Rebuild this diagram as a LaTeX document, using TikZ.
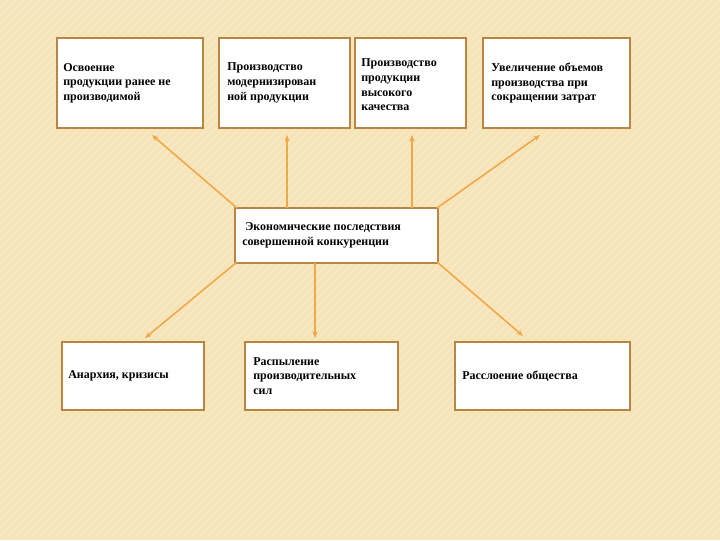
\documentclass[tikz,border=0pt]{standalone}
\usepackage{fontspec}
\setmainfont{Liberation Serif}
\usetikzlibrary{arrows.meta}
\definecolor{bg}{HTML}{F6E4B8}
\definecolor{bd}{HTML}{B98543}
\definecolor{ln}{HTML}{F0A84A}
\begin{document}
\begin{tikzpicture}[x=0.75pt,y=-0.75pt,
  box/.style={draw=bd,line width=1.6pt,fill=white},
  txt/.style={anchor=west,align=left,font=\bfseries\fontsize{9}{11}\selectfont,inner sep=0pt},
  conn/.style={draw=ln,line width=1.2pt,-{Stealth[length=5pt,width=4pt]}}]
\useasboundingbox (0,0) rectangle (720,540);
\fill[bg] (0,0) rectangle (720,540);
\begin{scope}
\clip (0,0) rectangle (720,540);
\foreach \i in {0,8,...,1280}{\draw[white,opacity=0.18,line width=1.5pt] (\i,0) -- (\i-540,540);}
\end{scope}
\draw[box] (57,38) rectangle (203,128); \node[txt] (t1) at (63,83) {Освоение\\продукции ранее не\\производимой};
\draw[box] (219,38) rectangle (350,128); \node[txt] (t2) at (227,83) {Производство\\модернизирован\\ной продукции};
\draw[box] (355,38) rectangle (466,128); \node[txt] (t3) at (361,85) {Производство\\продукции\\высокого\\качества};
\draw[box] (483,38) rectangle (630,128); \node[txt] (t4) at (491,83) {Увеличение объемов\\производства при\\сокращении затрат};
\draw[box] (235,208) rectangle (438,263); \node[txt] (c) at (242,235) {\ Экономические последствия\\совершенной конкуренции};
\draw[box] (62,342) rectangle (204,410); \node[txt] (t5) at (68,376) {Анархия, кризисы};
\draw[box] (245,342) rectangle (398,410); \node[txt] (t6) at (253,376) {Распыление\\производительных\\сил};
\draw[box] (455,342) rectangle (630,410); \node[txt] (t7) at (462,376) {Расслоение общества};
\coordinate (a1) at (237,208); \coordinate (e1) at (152,135);
\coordinate (a2) at (287,208); \coordinate (e2) at (287,135);
\coordinate (a3) at (412,208); \coordinate (e3) at (412,135);
\coordinate (a4) at (437,208); \coordinate (e4) at (540,135);
\coordinate (a5) at (237,262); \coordinate (e5) at (145,338);
\coordinate (a6) at (315,263); \coordinate (e6) at (315,338);
\coordinate (a7) at (437,262); \coordinate (e7) at (523,336);
\foreach \k in {1,...,7}{\draw[conn] (a\k) -- (e\k);}
\end{tikzpicture}
\end{document}
